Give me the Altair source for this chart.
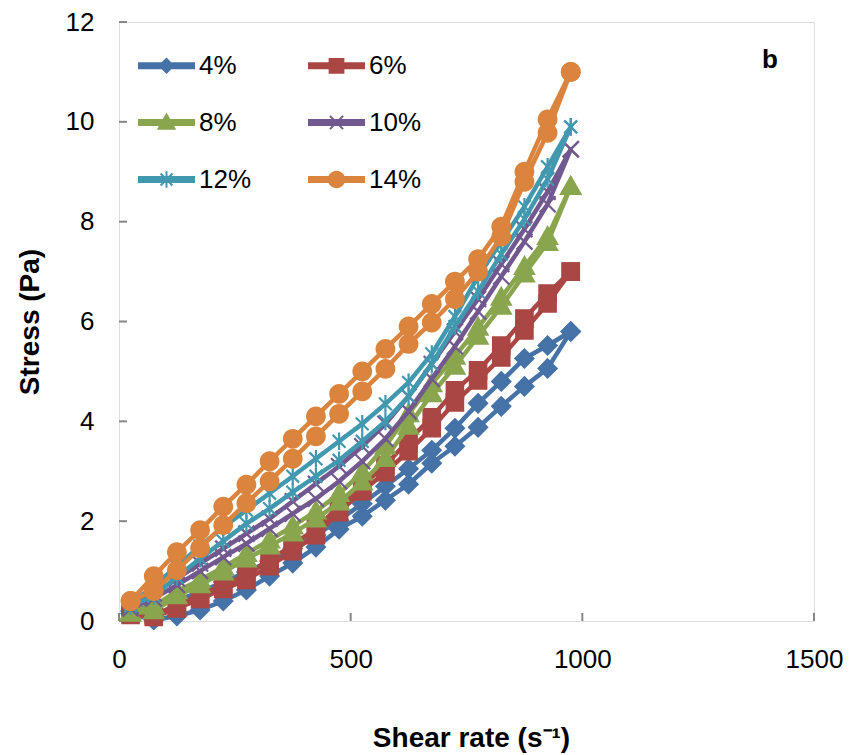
import math
import altair as alt
import pandas as pd

# ---------------- data ----------------
shear_rate = [25, 75, 125, 175, 225, 275, 325, 375, 425, 475,
              525, 575, 625, 675, 725, 775, 825, 875, 925, 975]

series_names = ["4%", "6%", "8%", "10%", "12%", "14%"]

up_4 = [0.20, 0.30, 0.42, 0.58, 0.78, 0.98, 1.20, 1.45, 1.72, 2.02,
        2.35, 2.70, 3.05, 3.42, 3.86, 4.36, 4.80, 5.26, 5.52, 5.80]
down_4 = [0.15, 0.02, 0.10, 0.22, 0.40, 0.62, 0.90, 1.16, 1.48, 1.84,
          2.10, 2.42, 2.74, 3.16, 3.50, 3.88, 4.30, 4.70, 5.06, 5.80]

up_6 = [0.15, 0.12, 0.32, 0.52, 0.72, 0.92, 1.22, 1.52, 1.85, 2.30,
        2.72, 3.12, 3.62, 4.08, 4.62, 5.02, 5.52, 6.06, 6.56, 7.00]
down_6 = [0.12, 0.08, 0.25, 0.44, 0.64, 0.82, 1.10, 1.40, 1.72, 2.18,
          2.60, 2.98, 3.40, 3.86, 4.38, 4.82, 5.28, 5.82, 6.36, 7.00]

up_8 = [0.18, 0.30, 0.60, 0.82, 1.08, 1.35, 1.62, 1.90, 2.20, 2.55,
        2.98, 3.50, 4.15, 4.75, 5.30, 5.88, 6.48, 7.10, 7.70, 8.70]
down_8 = [0.15, 0.20, 0.50, 0.72, 0.98, 1.24, 1.50, 1.76, 2.04, 2.38,
          2.78, 3.25, 3.90, 4.55, 5.10, 5.70, 6.30, 6.95, 7.58, 8.70]

up_10 = [0.30, 0.55, 0.85, 1.15, 1.45, 1.75, 2.05, 2.40, 2.75, 3.10,
         3.50, 3.95, 4.50, 5.15, 5.80, 6.45, 7.15, 7.85, 8.60, 9.45]
down_10 = [0.25, 0.45, 0.72, 1.00, 1.28, 1.55, 1.85, 2.15, 2.45, 2.80,
           3.20, 3.65, 4.20, 4.85, 5.50, 6.20, 6.90, 7.60, 8.35, 9.45]

up_12 = [0.35, 0.70, 1.10, 1.50, 1.88, 2.22, 2.56, 2.90, 3.25, 3.60,
         3.95, 4.35, 4.78, 5.35, 6.10, 6.90, 7.60, 8.30, 9.10, 9.90]
down_12 = [0.30, 0.50, 0.88, 1.25, 1.60, 1.95, 2.25, 2.58, 2.90, 3.22,
           3.60, 4.00, 4.50, 5.15, 5.90, 6.60, 7.35, 8.05, 8.85, 9.90]

up_14 = [0.40, 0.90, 1.38, 1.82, 2.29, 2.73, 3.20, 3.65, 4.10, 4.55,
         5.00, 5.45, 5.90, 6.35, 6.80, 7.25, 7.90, 9.00, 10.05, 11.00]
down_14 = [0.40, 0.60, 1.02, 1.46, 1.92, 2.36, 2.80, 3.25, 3.70, 4.15,
           4.60, 5.05, 5.55, 5.98, 6.45, 7.00, 7.70, 8.80, 9.78, 11.00]

x_ticks = [0, 500, 1000, 1500]
y_ticks = [0, 2, 4, 6, 8, 10, 12]

# ---------------- styles ----------------
colors = ["#4572A7", "#AA4643", "#89A54E", "#71588F", "#4198AF", "#DB843D"]
FONT = "Liberation Sans"
GRAY = "#868686"
W, H = 695, 599


def poly(points, s):
    return "M" + "L".join(f"{x * s:.3f},{y * s:.3f}" for x, y in points) + "Z"


def lines(segs, s):
    return "".join(f"M{a * s:.3f},{b * s:.3f}L{c * s:.3f},{d * s:.3f}" for a, b, c, d in segs)


circle_pts = [(math.cos(2 * math.pi * k / 28), math.sin(2 * math.pi * k / 28)) for k in range(28)]


def marker(kind, s):
    if kind == "diamond":
        return poly([(0, -1), (1, 0), (0, 1), (-1, 0)], s)
    if kind == "square":
        return poly([(-1, -1), (1, -1), (1, 1), (-1, 1)], s)
    if kind == "triangle":
        return poly([(0, -1.05), (1.05, 0.8), (-1.05, 0.8)], s)
    if kind == "x":
        return lines([(-1, -1, 1, 1), (-1, 1, 1, -1)], s)
    if kind == "star":
        return lines([(-0.8, -0.8, 0.8, 0.8), (-0.8, 0.8, 0.8, -0.8), (0, -1.1, 0, 1.1)], s)
    return poly(circle_pts, s)


kinds = ["diamond", "square", "triangle", "x", "star", "circle"]
data_scale = {"diamond": 0.9, "square": 0.82, "triangle": 0.9, "x": 0.8, "star": 0.8, "circle": 0.88}
leg_scale = {"diamond": 0.25, "square": 0.25, "triangle": 0.28, "x": 0.24, "star": 0.27, "circle": 0.28}
data_paths = [marker(k, data_scale[k]) for k in kinds]
legend_bar = poly([(-1, -0.09), (1, -0.09), (1, 0.09), (-1, 0.09)], 1)
legend_paths = [legend_bar + marker(k, leg_scale[k]) for k in kinds]

# ---------------- table ----------------
ups = [up_4, up_6, up_8, up_10, up_12, up_14]
downs = [down_4, down_6, down_8, down_10, down_12, down_14]
rows = []
for name, up, down in zip(series_names, ups, downs):
    rate = shear_rate + shear_rate[::-1]
    stress = up + down[::-1]
    for i, (r, s) in enumerate(zip(rate, stress)):
        rows.append({"series": name, "rate": r, "stress": s, "idx": i})
df = pd.DataFrame(rows)

x_enc = alt.X(
    "rate:Q",
    scale=alt.Scale(domain=[0, 1500], nice=False, zero=False),
    axis=alt.Axis(
        values=x_ticks, format="d", title="Shear rate (s⁻¹)", domain=False, ticks=False, grid=False,
        labelFontSize=26, labelFont=FONT, labelColor="black", labelPadding=25, labelFlush=False,
        titleFontSize=28, titleFont=FONT, titleFontWeight="bold", titleColor="black",
        titleX=352, titleY=117, titleBaseline="middle", titleAlign="center",
    ),
)
y_enc = alt.Y(
    "stress:Q",
    scale=alt.Scale(domain=[0, 12], nice=False, zero=False),
    axis=alt.Axis(
        values=y_ticks, format="d", title="Stress (Pa)", domain=False, ticks=False, grid=False,
        labelFontSize=26, labelFont=FONT, labelColor="black", labelPadding=25, labelFlush=False,
        titleFontSize=28, titleFont=FONT, titleFontWeight="bold", titleColor="black",
        titleX=-89, titleY=H / 2, titleAngle=-90, titleBaseline="middle", titleAlign="center",
    ),
)

base = alt.Chart(df)
layers = []
for name, col, path in zip(series_names, colors, data_paths):
    sub = base.transform_filter(alt.datum.series == name)
    line = sub.mark_line(strokeWidth=4.5, strokeJoin="round", strokeCap="round").encode(
        x=x_enc, y=y_enc, order=alt.Order("idx:Q"), color=alt.value(col)
    )
    pts = sub.mark_point(filled=True, size=400, strokeWidth=2.2, opacity=1).encode(
        x=x_enc, y=y_enc, shape=alt.value(path), fill=alt.value(col), stroke=alt.value(col)
    )
    layers += [line, pts]

# inward tick marks (Excel style)
xt = alt.Chart(pd.DataFrame({"t": x_ticks})).mark_rule(color=GRAY, strokeWidth=2).encode(
    x=alt.X("t:Q", scale=alt.Scale(domain=[0, 1500], nice=False)), y=alt.value(H), y2=alt.value(H - 8)
)
yt = alt.Chart(pd.DataFrame({"t": y_ticks})).mark_rule(color=GRAY, strokeWidth=2).encode(
    y=alt.Y("t:Q", scale=alt.Scale(domain=[0, 12], nice=False)), x=alt.value(0), x2=alt.value(8)
)

# legend (line + marker symbols); legend fills column by column, so order entries accordingly
leg_order = [0, 2, 4, 1, 3, 5]
leg_domain = [series_names[i] for i in leg_order]
leg_colors = [colors[i] for i in leg_order]
leg_shapes = [legend_paths[i] for i in leg_order]

leg = alt.Legend(
    title=None, orient="none", legendX=19, legendY=15, columns=2,
    symbolSize=3025, symbolStrokeWidth=2, symbolOpacity=1,
    labelFontSize=26, labelFont=FONT, labelColor="black", labelOffset=4,
    columnPadding=53, rowPadding=15, padding=0,
)
legend_layer = base.transform_filter("false").mark_point(filled=True, size=3025, opacity=1, strokeWidth=2).encode(
    x=x_enc, y=y_enc,
    fill=alt.Fill("series:N", scale=alt.Scale(domain=leg_domain, range=leg_colors), legend=leg),
    stroke=alt.Stroke("series:N", scale=alt.Scale(domain=leg_domain, range=leg_colors), legend=leg),
    shape=alt.Shape("series:N", scale=alt.Scale(domain=leg_domain, range=leg_shapes), legend=leg),
)

panel_label = alt.Chart(pd.DataFrame({"lab": ["b"]})).mark_text(
    font=FONT, fontSize=26, fontWeight="bold", color="black", align="center", baseline="middle"
).encode(text="lab:N", x=alt.value(651), y=alt.value(38))

chart = alt.layer(xt, yt, *layers, legend_layer, panel_label).properties(
    width=W, height=H,
    autosize=alt.AutoSizeParams(type="none"),
    padding={"left": 119, "top": 22, "right": 38, "bottom": 134},
).configure_view(stroke=GRAY, strokeWidth=2).configure(background="white")

chart.save("out.html", embed_options={"renderer": "svg", "actions": False})
